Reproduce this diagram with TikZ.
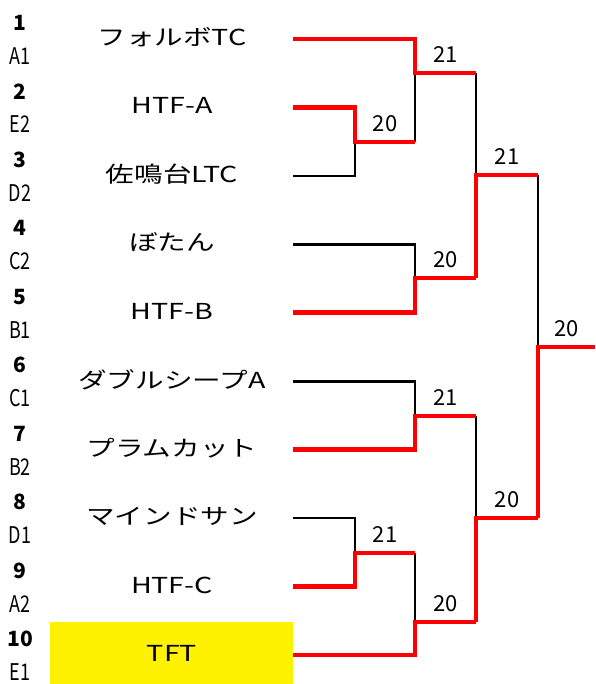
\documentclass[tikz,border=0pt]{standalone}
\usepackage{fontspec}
\setmainfont{Noto Sans CJK JP}
\usepackage{graphicx}
\newcommand\teamtxt[1]{\scalebox{1.3}[1]{#1}}
\newcommand\codetxt[1]{\scalebox{0.9}[1.15]{#1}}
\tikzset{
  team/.style={font=\fontsize{22}{24}\selectfont, inner sep=0pt, anchor=center},
  seed/.style={font=\fontsize{21}{23}\selectfont\bfseries, inner sep=0pt},
  code/.style={font=\fontsize{20}{22}\selectfont, inner sep=0pt},
  score/.style={font=\fontsize{22}{24}\selectfont, inner sep=0pt, above=8pt},
  lose/.style={draw=black, line width=2.6pt},
  win/.style={draw=red, line width=4.8pt, line join=miter},
}
\begin{document}
\begin{tikzpicture}[x=1pt,y=-1pt]
\useasboundingbox (0,0) rectangle (595,684);
\fill[yellow] (50,622) rectangle (293,684);
% rows
\foreach \r/\s/\c [evaluate=\r as \yy using 39+68.45*(\r-1)] in
  {1/1/A1,2/2/E2,3/3/D2,4/4/C2,5/5/B1,6/6/C1,7/7/B2,8/8/D1,9/9/A2,10/10/E1}{
  \node[seed] (n\r) at (20,\yy-16) {\s};
  \node[code] (c\r) at (20,\yy+17) {\codetxt{\c}};
  \coordinate (e\r) at (293,\yy);
}
\node[team] (t1) at (172,37) {\teamtxt{フォルボTC}};
\node[team] (t2) at (172,105.5) {\teamtxt{HTF-A}};
\node[team] (t3) at (172,174) {\teamtxt{佐鳴台LTC}};
\node[team] (t4) at (172,242.5) {\teamtxt{ぼたん}};
\node[team] (t5) at (172,311) {\teamtxt{HTF-B}};
\node[team] (t6) at (172,379.5) {\teamtxt{ダブルシープA}};
\node[team] (t7) at (172,448) {\teamtxt{プラムカット}};
\node[team] (t8) at (172,516.5) {\teamtxt{マインドサン}};
\node[team] (t9) at (172,585) {\teamtxt{HTF-C}};
\node[team] (t10) at (172,653) {\teamtxt{TFT}};
% junctions
\coordinate (j23) at (355,142);  \coordinate (o23) at (415,142);
\coordinate (jA) at (415,73);    \coordinate (oA) at (476,73);
\coordinate (jB) at (415,278);   \coordinate (oB) at (476,278);
\coordinate (jS1) at (476,175);  \coordinate (oS1) at (538,175);
\coordinate (jC) at (415,416);   \coordinate (oC) at (476,416);
\coordinate (jD) at (355,553);   \coordinate (oD) at (415,553);
\coordinate (jE) at (415,622);   \coordinate (oE) at (476,622);
\coordinate (jS2) at (476,518);  \coordinate (oS2) at (538,518);
\coordinate (jF) at (538,347);   \coordinate (oF) at (595,347);
% losers
\path[lose] (e3) -| (j23);
\path[lose] (o23) -- (jA);
\path[lose] (e4) -| (jB);
\path[lose] (oA) -- (jS1);
\path[lose] (e6) -| (jC);
\path[lose] (e8) -| (jD);
\path[lose] (oD) -- (jE);
\path[lose] (oC) -- (jS2);
\path[lose] (oS1) -- (jF);
% winners
\path[win] (e2) -| (j23) -- (o23) node[score, midway] (s23) {20};
\path[win] (e1) -| (jA) -- (oA) node[score, midway] (sA) {21};
\path[win] (e5) -| (jB) -- (oB) node[score, midway] (sB) {20};
\path[win] (oB) -- (jS1) -- (oS1) node[score, midway] (sS1) {21};
\path[win] (e7) -| (jC) -- (oC) node[score, midway] (sC) {21};
\path[win] (e9) -| (jD) -- (oD) node[score, midway] (sD) {21};
\path[win] (e10) -| (jE) -- (oE) node[score, midway] (sE) {20};
\path[win] (oE) -- (jS2) -- (oS2) node[score, midway] (sS2) {20};
\path[win] (oS2) -- (jF) -- (oF) node[score, midway] (sF) {20};
\end{tikzpicture}
\end{document}
